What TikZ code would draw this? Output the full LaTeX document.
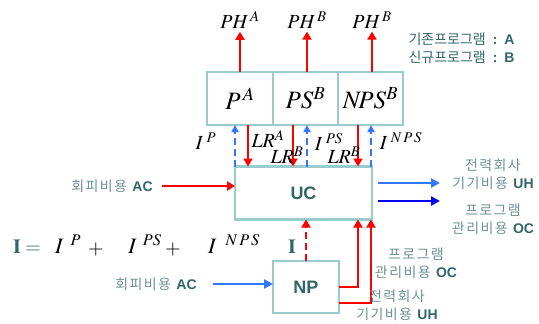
\documentclass[tikz,border=0pt]{standalone}
\usepackage{mathptmx}
\usepackage{fontspec}
\setmainfont{Liberation Sans}
\newfontfamily\krfont[LetterSpace=10]{Noto Sans CJK KR}
\newfontfamily\krlegend{Noto Sans CJK KR}
\usepackage{xcolor}
\usepackage{tikz}
\usetikzlibrary{positioning,arrows.meta,calc}
\definecolor{boxteal}{RGB}{153,204,204}
\definecolor{darkteal}{RGB}{51,102,102}
\definecolor{softteal}{RGB}{110,145,145}
\definecolor{lightblue}{RGB}{51,119,255}
\definecolor{deepblue}{RGB}{0,0,235}
\newcommand{\kor}[1]{{\krfont #1}}
\newcommand{\abbr}[1]{\textbf{\color{darkteal}#1}}

\begin{document}
\begin{tikzpicture}[x=1pt, y=-1pt,
  cell/.style={draw=boxteal, line width=2.2pt, minimum height=53pt, inner sep=0pt, outer sep=0pt, font=\fontsize{25}{25}\selectfont},
  mlab/.style={font=\fontsize{20}{20}\selectfont, inner sep=1pt},
  klab/.style={font=\fontsize{14}{18}\selectfont, text=softteal, align=center, inner sep=1pt},
  redarr/.style={red, line width=2.5pt, -{Triangle[length=8pt,width=9pt]}},
  reddash/.style={red, line width=2.5pt, dash pattern=on 7pt off 4pt, -{Triangle[length=8pt,width=9pt]}},
  bluedash/.style={lightblue, line width=2pt, dash pattern=on 7pt off 4pt, -{Triangle[length=7pt,width=7pt]}},
  bluearr/.style={lightblue, line width=2.5pt, -{Triangle[length=9pt,width=9pt]}},
  deeparr/.style={deepblue, line width=2.5pt, -{Triangle[length=9pt,width=9pt]}}]
\useasboundingbox (0,0) rectangle (539,324);

% ---------------- top boxes ----------------
\node[cell, minimum width=66pt] (pA) at (240,98.5) {$P^{\,A}$};
\node[cell, minimum width=65pt, right=0pt of pA] (psB) {$PS^{B}$};
\node[cell, minimum width=65pt, right=0pt of psB] (npsB) {$N\!PS^{B}$};

\node[mlab, inner sep=3pt] (phA) at (240,20) {$PH^{\,A}$};
\node[mlab, inner sep=3pt] (phB) at (307,20) {$PH^{\,B}$};
\node[mlab, inner sep=3pt] (phNB) at (372,20) {$PH^{\,B}$};
\draw[redarr] (pA.north) -- (phA.south);
\draw[redarr] (phB.south |- psB.north) -- (phB.south);
\draw[redarr] (phNB.south |- npsB.north) -- (phNB.south);

\node[font=\fontsize{14}{18}\selectfont, text=darkteal, align=left, anchor=west] (legend) at (405,48)
  {{\krlegend 기존프로그램}\enspace\textbf{:}\enspace\textbf{A}\\ {\krlegend 신규프로그램}\enspace\textbf{:}\enspace\textbf{B}};

% ---------------- UC and NP ----------------
\node[cell, minimum width=137pt, font=\fontsize{18}{18}\selectfont\bfseries, text=darkteal] (uc) at (303.5,193) {UC};
\node[cell, minimum width=66pt, minimum height=52pt, font=\fontsize{18}{18}\selectfont\bfseries, text=darkteal] (np) at (306,287) {NP};

% links between top boxes and UC
\draw[bluedash] (uc.north west) -- (uc.north west |- pA.south);
\draw[bluedash] ([xshift=3.5pt]uc.north) -- ([xshift=3.5pt]uc.north |- psB.south);
\draw[bluedash] ([xshift=-1pt]uc.north east) -- ([xshift=-1pt]uc.north east |- npsB.south);
\draw[redarr] ([xshift=13pt]uc.north west |- pA.south) -- ([xshift=13pt]uc.north west);
\draw[redarr] ([xshift=-10.5pt]uc.north |- psB.south) -- ([xshift=-10.5pt]uc.north);
\draw[redarr] ([xshift=-14pt]uc.north east |- npsB.south) -- ([xshift=-14pt]uc.north east);

\node[mlab] (iP) at (206,141) {$I^{\;P}$};
\node[mlab] (lrA) at (268,139) {$LR^{A}$};
\node[mlab] (lrB) at (287,155) {$LR^{B}$};
\node[mlab] (iPS) at (329,142) {$I^{\;PS}$};
\node[mlab] (lrNB) at (344,155) {$LR^{B}$};
\node[mlab] (iNPS) at (401,141) {$I^{\;N\,P\,S}$};

% ---------------- left inputs ----------------
\node[klab] (acT) at (112,186) {\kor{회피비용} \abbr{AC}};
\draw[redarr] ($(acT.east)+(8,0)$) -- (acT.east -| uc.west);
\node[klab] (acB) at (156,284) {\kor{회피비용} \abbr{AC}};
\draw[bluearr] ($(np.west |- acB.east)+(-60,0)$) -- (np.west |- acB.east);

% equation
\node[mlab, text=darkteal] (eqI) at (27,247) {$\mathbf{I}\;\mathbf{=}$};
\node[mlab, font=\fontsize{22}{22}\selectfont] (eqP) at (68,244) {$I^{\hspace{7pt}P}$};
\node[mlab] (plusA) at (96,250) {$+$};
\node[mlab, font=\fontsize{22}{22}\selectfont] (eqPS) at (145,244) {$I^{\hspace{6pt}PS}$};
\node[mlab] (plusB) at (173,250) {$+$};
\node[mlab, font=\fontsize{22}{22}\selectfont] (eqNPS) at (234,244) {$I^{\hspace{9pt}N\,P\,S}$};

\node[mlab, text=darkteal] (iNP) at (292,247) {$\mathbf{I}$};
\draw[reddash] (np.north) -- (np.north |- uc.south);

% ---------------- NP costs to UC ----------------
\draw[redarr] (np.east) -| ([xshift=-14pt]uc.south east);
\draw[redarr] ([yshift=-16pt]np.east) -| ([xshift=-1pt]uc.south east);
\node[klab] (ocB) at (416,263) {\kor{프로그램}\\ \kor{관리비용} \abbr{OC}};
\node[klab] (uhB) at (397,305) {\kor{전력회사}\\ \kor{기기비용} \abbr{UH}};

% ---------------- UC outputs ----------------
\coordinate (uhEnd) at (440,183);
\coordinate (ocEnd) at (440,201);
\draw[bluearr] ($(uc.east |- uhEnd)+(6,0)$) -- (uhEnd);
\draw[deeparr] ($(uc.east |- ocEnd)+(6,0)$) -- (ocEnd);
\node[klab] (uhR) at (493,174) {\kor{전력회사}\\ \kor{기기비용} \abbr{UH}};
\node[klab] (ocR) at (493,219) {\kor{프로그램}\\ \kor{관리비용} \abbr{OC}};

\end{tikzpicture}
\end{document}
